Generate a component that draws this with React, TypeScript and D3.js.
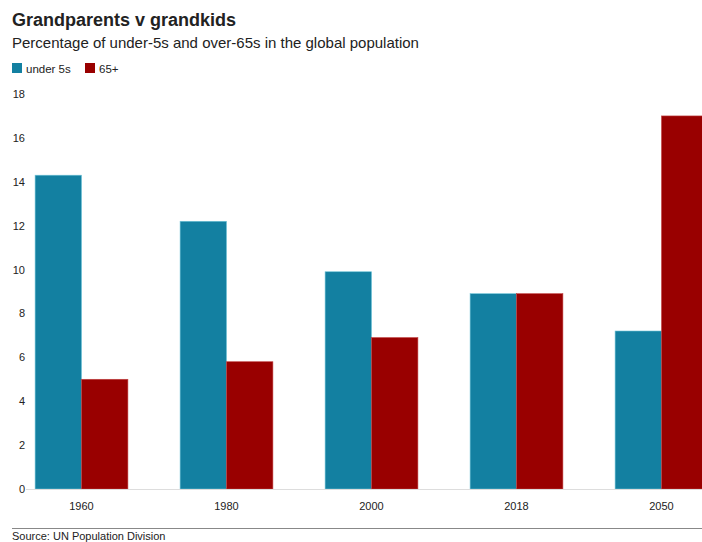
import React from "react";
import * as d3 from "d3";

const years = ["1960", "1980", "2000", "2018", "2050"];
const under5 = [14.3, 12.2, 9.9, 8.9, 7.2];
const over65 = [5.0, 5.8, 6.9, 8.9, 17.0];
const seriesNames = ["under 5s", "65+"];
const seriesColors = ["#1380A1", "#990000"];
const yTicks = [0, 2, 4, 6, 8, 10, 12, 14, 16, 18];

const W = 702;
const H = 542;
const FONT = "'Liberation Sans', Arial, Helvetica, sans-serif";

export default function App() {
  const y = d3.scaleLinear().domain([0, 18]).range([489, 94]);
  const x = d3
    .scaleBand<string>()
    .domain(years)
    .range([9, 734])
    .paddingInner(0.36)
    .paddingOuter(0.18);
  const inner = d3
    .scaleBand<string>()
    .domain(seriesNames)
    .range([0, x.bandwidth()])
    .padding(0);
  const series = [under5, over65];

  return (
    <svg
      width={W}
      height={H}
      style={{ position: "absolute", left: 0, top: 0, background: "#fff" }}
      fontFamily={FONT}
    >
      <text x={12} y={26} fontSize={18} fontWeight="bold" fill="#222">
        Grandparents v grandkids
      </text>
      <text x={12} y={48} fontSize={15} fill="#222">
        Percentage of under-5s and over-65s in the global population
      </text>
      {seriesNames.map((s, i) => {
        const lx = i === 0 ? 12 : 85;
        return (
          <g key={s}>
            <rect x={lx} y={63} width={10} height={10} fill={seriesColors[i]} />
            <text x={lx + 14} y={72.5} fontSize={11.5} fill="#222">
              {s}
            </text>
          </g>
        );
      })}
      {yTicks.map((t) => (
        <text
          key={t}
          x={25}
          y={y(t) + 4}
          fontSize={11}
          textAnchor="end"
          fill="#222"
        >
          {t}
        </text>
      ))}
      {years.map((yr, gi) =>
        series.map((vals, si) => (
          <rect
            key={yr + si}
            x={(x(yr) ?? 0) + (inner(seriesNames[si]) ?? 0)}
            y={y(vals[gi])}
            width={inner.bandwidth()}
            height={y(0) - y(vals[gi])}
            fill={seriesColors[si]}
            stroke={si === 0 ? "#6fc3d8" : "#c04040"}
            strokeWidth={0.6}
          />
        ))
      )}
      <line x1={26} x2={W} y1={y(0) + 0.5} y2={y(0) + 0.5} stroke="#ddd" strokeWidth={1} />
      {years.map((yr) => (
        <text
          key={yr}
          x={(x(yr) ?? 0) + x.bandwidth() / 2}
          y={510}
          fontSize={11}
          textAnchor="middle"
          fill="#222"
        >
          {yr}
        </text>
      ))}
      <line x1={12} x2={W} y1={528.5} y2={528.5} stroke="#888" strokeWidth={1} />
      <text x={12} y={539.5} fontSize={11} fill="#222">
        Source: UN Population Division
      </text>
    </svg>
  );
}
